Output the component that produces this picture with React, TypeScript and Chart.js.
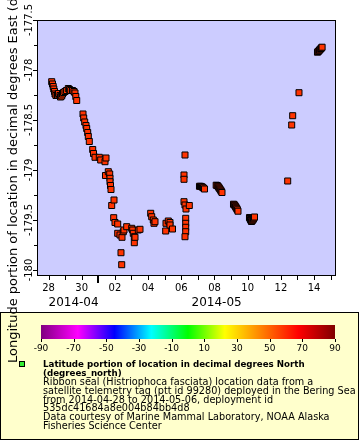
import React, { useEffect, useRef } from "react";
import { Chart, registerables } from "chart.js";

Chart.register(...registerables);

// Time axis as day numbers: 28 = 2014-04-28 00:00, 31 = 2014-05-01 00:00, 44 = 2014-05-14 00:00
const trackDay = [
  28.193, 28.241, 28.283, 28.319, 28.361, 28.392, 28.452, 28.542, 28.602, 28.693, 28.723, 28.795,
  28.843, 28.904, 28.994, 29.084, 29.193, 29.265, 29.337, 29.446, 29.536, 29.596, 29.645, 29.699,
  30.078, 30.12, 30.181, 30.259, 30.301, 30.361, 30.398, 30.458, 30.663, 30.711, 30.801, 31.06,
  31.145, 31.404, 31.434, 31.464, 31.602, 31.687, 31.705, 31.705, 31.735, 31.765, 31.807, 31.928,
  31.946, 32.006, 32.169, 32.169, 32.307, 32.367, 32.41, 32.428, 32.506, 32.548, 32.711, 33.012,
  33.072, 33.108, 33.169, 33.169, 33.211, 33.41, 33.512,
  34.157, 34.217, 34.313, 34.355, 34.416,
  35.06, 35.078, 35.217, 35.319, 35.319, 35.47,
  36.223, 36.163, 36.163, 36.163, 36.223, 36.283, 36.265, 36.265, 36.265, 36.265, 36.223, 36.482,
  37.096, 37.157, 37.217, 37.277, 37.337, 37.398,
  38.102, 38.163, 38.211, 38.253, 38.289, 38.331, 38.373, 38.41, 38.452,
  39.145, 39.193, 39.235, 39.271, 39.307, 39.343, 39.38, 39.416,
  40.108, 40.139, 40.169, 40.199, 40.229, 40.271, 40.313, 40.349, 40.38, 40.41,
  42.41, 42.651, 42.711, 43.09,
  44.205, 44.247, 44.289, 44.331, 44.373, 44.416, 44.452, 44.482,
];

const longitudeEast = [
  -178.117, -178.14, -178.165, -178.19, -178.215, -178.24, -178.255, -178.25, -178.235, -178.255, -178.27, -178.26,
  -178.24, -178.225, -178.215, -178.205, -178.185, -178.195, -178.205, -178.205, -178.215, -178.23, -178.265, -178.305,
  -178.44, -178.48, -178.52, -178.555, -178.585, -178.625, -178.665, -178.715, -178.795, -178.835, -178.873, -178.873,
  -178.9, -178.917, -179.055, -178.88, -179.017, -179.04, -179.083, -179.117, -179.155, -179.195, -179.355, -179.477,
  -179.3, -179.525, -179.54, -179.633, -179.65, -179.827, -179.947, -179.673, -179.617, -179.6, -179.567, -179.583,
  -179.6, -179.633, -179.667, -179.727, -179.673, -179.6, -179.593,
  -179.433, -179.467, -179.5, -179.533, -179.517,
  -179.61, -179.533, -179.51, -179.525, -179.55, -179.59,
  -178.85, -179.05, -179.093, -179.317, -179.35, -179.39, -179.483, -179.533, -179.573, -179.617, -179.667, -179.355,
  -179.163, -179.163, -179.166, -179.172, -179.18, -179.19,
  -179.152, -179.155, -179.163, -179.172, -179.182, -179.192, -179.202, -179.213, -179.225,
  -179.342, -179.348, -179.357, -179.367, -179.377, -179.387, -179.398, -179.412,
  -179.475, -179.485, -179.495, -179.505, -179.515, -179.507, -179.498, -179.488, -179.479, -179.47,
  -179.11, -178.55, -178.457, -178.227,
  -177.822, -177.815, -177.808, -177.8, -177.792, -177.785, -177.778, -177.772,
];

const xRange = [27.307, 45.26];
const yRange = [-180.05, -177.5];

const xTickDays = [28, 30, 32, 34, 36, 38, 40, 42, 44];
const xTickLabels = ["28", "30", "02", "04", "06", "08", "10", "12", "14"];
const xMinorDays = [28, 29, 30, 31, 32, 33, 34, 35, 36, 37, 38, 39, 40, 41, 42, 43, 44, 45];
const monthStartDays = [1, 31];
const monthEndDays = [31, 62];
const monthLabels = ["2014-04", "2014-05"];

const yTickValues = [-177.5, -178, -178.5, -179, -179.5, -180];
const yTickLabels = ["-177.5", "-178", "-178.5", "-179", "-179.5", "-180"];
const yMinorValues = [-177.75, -178.25, -178.75, -179.25, -179.75];
const yAxisTitle = "Longitude portion of location in decimal degrees East (degrees_east)";

const colorbarTicks = [-90, -70, -50, -30, -10, 10, 30, 50, 70, 90];
const colorbarStops = [-90, -67.5, -45, -22.5, 0, 22.5, 45, 67.5, 90];
const colorbarColors = ["#800080", "#ff00ff", "#0000ff", "#00ffff", "#00ff00", "#ffff00", "#ff8000", "#ff0000", "#800000"];

const legendTitle = ["Latitude portion of location in decimal degrees North", "(degrees_north)"];
const legendText = [
  "Ribbon seal (Histriophoca fasciata) location data from a",
  "satellite telemetry tag (ptt id 99280) deployed in the Bering Sea",
  "from 2014-04-28 to 2014-05-06, deployment id",
  "535dc41684a8e004b84bb4d8",
  "Data courtesy of Marine Mammal Laboratory, NOAA Alaska",
  "Fisheries Science Center",
];

const FONT = '"DejaVu Sans", "Liberation Sans", sans-serif';

const erddapPlugin = {
  id: "erddapDecor",
  beforeDatasetsDraw(chart: any) {
    const { ctx, chartArea: a } = chart;
    ctx.save();
    ctx.fillStyle = "#ccccff";
    ctx.fillRect(a.left, a.top, a.right - a.left + 1, a.bottom - a.top + 1);
    ctx.restore();
  },
  afterDatasetsDraw(chart: any) {
    const { ctx, chartArea: a, scales } = chart;
    const xs = scales.x;
    const ys = scales.y;
    ctx.save();
    ctx.strokeStyle = "#000";
    ctx.fillStyle = "#000";
    ctx.lineWidth = 1;
    ctx.strokeRect(a.left + 0.5, a.top + 0.5, a.right - a.left, a.bottom - a.top);

    // x ticks
    ctx.beginPath();
    xMinorDays.forEach((d) => {
      const px = Math.round(xs.getPixelForValue(d)) + 0.5;
      if (px < a.left || px > a.right + 1) return;
      ctx.moveTo(px, a.bottom + 1);
      ctx.lineTo(px, a.bottom + 5);
    });
    ctx.stroke();
    ctx.lineWidth = 2;
    monthStartDays.forEach((d) => {
      if (d <= xs.min || d >= xs.max) return;
      const px = Math.round(xs.getPixelForValue(d));
      ctx.beginPath();
      ctx.moveTo(px, a.bottom + 1);
      ctx.lineTo(px, a.bottom + 8);
      ctx.stroke();
    });
    ctx.lineWidth = 1;

    ctx.font = `10px ${FONT}`;
    ctx.textAlign = "center";
    ctx.textBaseline = "alphabetic";
    xTickDays.forEach((d, i) => {
      ctx.fillText(xTickLabels[i], xs.getPixelForValue(d), a.bottom + 16);
    });

    ctx.font = `12px ${FONT}`;
    monthLabels.forEach((lab, i) => {
      const s = Math.max(monthStartDays[i], xs.min);
      const e = Math.min(monthEndDays[i], xs.max);
      if (e <= s) return;
      const w = ctx.measureText(lab).width;
      let cx = (xs.getPixelForValue(s) + xs.getPixelForValue(e)) / 2;
      const minLeft = xs.getPixelForValue(xTickDays[0]);
      if (cx - w / 2 < minLeft) cx = minLeft + w / 2;
      ctx.fillText(lab, cx, a.bottom + 31);
    });

    // y ticks
    ctx.beginPath();
    yTickValues.forEach((v) => {
      const py = Math.round(ys.getPixelForValue(v)) + 0.5;
      ctx.moveTo(a.left - 4, py);
      ctx.lineTo(a.left, py);
    });
    yMinorValues.forEach((v) => {
      const py = Math.round(ys.getPixelForValue(v)) + 0.5;
      ctx.moveTo(a.left - 3, py);
      ctx.lineTo(a.left, py);
    });
    ctx.stroke();

    ctx.font = `10px ${FONT}`;
    yTickValues.forEach((v, i) => {
      const py = ys.getPixelForValue(v);
      ctx.save();
      ctx.translate(a.left - 5, py);
      ctx.rotate(-Math.PI / 2);
      ctx.textAlign = "center";
      ctx.fillText(yTickLabels[i], 0, 0);
      ctx.restore();
    });

    // legend box
    const lbTop = a.bottom + 37;
    ctx.fillStyle = "#ffffcc";
    ctx.fillRect(0, lbTop, 359, 128);
    ctx.strokeStyle = "#000";
    ctx.strokeRect(0.5, lbTop + 0.5, 358, 127);

    // colorbar
    const cbLeft = 41;
    const cbRight = 335;
    const cbTop = lbTop + 13;
    const cbH = 14;
    const grad = ctx.createLinearGradient(cbLeft, 0, cbRight, 0);
    colorbarStops.forEach((v, i) => grad.addColorStop((v + 90) / 180, colorbarColors[i]));
    ctx.fillStyle = grad;
    ctx.fillRect(cbLeft, cbTop, cbRight - cbLeft, cbH);
    ctx.fillStyle = "#000";
    ctx.beginPath();
    colorbarTicks.forEach((v) => {
      const px = Math.round(cbLeft + ((v + 90) / 180) * (cbRight - cbLeft)) + 0.5;
      ctx.moveTo(px, cbTop + cbH);
      ctx.lineTo(px, cbTop + cbH + 3);
    });
    ctx.stroke();
    ctx.font = `9px ${FONT}`;
    ctx.textAlign = "center";
    colorbarTicks.forEach((v) => {
      const px = cbLeft + ((v + 90) / 180) * (cbRight - cbLeft);
      ctx.fillText(String(v), px, cbTop + cbH + 12);
    });

    // legend marker
    ctx.fillStyle = "#33ee33";
    ctx.fillRect(19, lbTop + 49, 6, 6);
    ctx.strokeRect(19.5, lbTop + 49.5, 5, 5);

    // legend text
    ctx.fillStyle = "#000";
    ctx.textAlign = "left";
    let base = lbTop + 54.7;
    ctx.font = `bold 8.7px ${FONT}`;
    legendTitle.forEach((t) => {
      ctx.fillText(t, 43, base);
      base += 8.95;
    });
    ctx.font = `9.7px ${FONT}`;
    legendText.forEach((t) => {
      ctx.fillText(t, 43, base);
      base += 8.95;
    });

    // y axis title
    ctx.save();
    ctx.font = `13px ${FONT}`;
    ctx.translate(16.5, 363);
    ctx.rotate(-Math.PI / 2);
    ctx.textAlign = "left";
    ctx.fillText(yAxisTitle, 0, 0);
    ctx.restore();

    ctx.restore();
  },
};

export default function App() {
  const ref = useRef<HTMLCanvasElement | null>(null);
  useEffect(() => {
    if (!ref.current) return;
    const points = trackDay.map((d, i) => ({ x: d, y: longitudeEast[i] }));
    const chart = new Chart(ref.current, {
      type: "scatter",
      data: {
        datasets: [
          {
            data: points,
            pointStyle: "rect",
            pointRadius: 4.25,
            pointBorderWidth: 1,
            pointBorderColor: "#000000",
            pointBackgroundColor: "#ff3300",
            showLine: false,
          },
        ],
      },
      options: {
        responsive: false,
        animation: false,
        devicePixelRatio: 1,
        events: [],
        layout: { padding: { left: 37, top: 20, right: 25, bottom: 165 } },
        scales: {
          x: { type: "linear", min: xRange[0], max: xRange[1], display: false },
          y: { type: "linear", min: yRange[0], max: yRange[1], display: false },
        },
        plugins: { legend: { display: false }, tooltip: { enabled: false } },
      },
      plugins: [erddapPlugin],
    } as any);
    return () => chart.destroy();
  }, []);
  return (
    <div style={{ position: "absolute", left: 0, top: 0, width: 360, height: 440, background: "#fff" }}>
      <canvas ref={ref} width={360} height={440} style={{ width: 360, height: 440, display: "block" }} />
    </div>
  );
}
